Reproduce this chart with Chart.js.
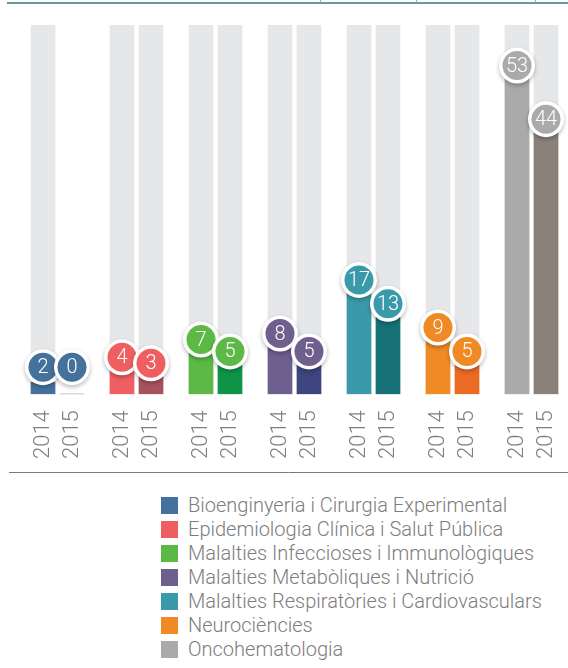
<!DOCTYPE html>
<html>
<head>
<meta charset="utf-8">
<script src="https://cdn.jsdelivr.net/npm/chart.js@4"></script>
<style>
  html, body { margin: 0; padding: 0; background: #fff; }
  #wrap { position: relative; width: 568px; height: 668px; }
  #chart { position: absolute; left: 0; top: 0; }
  #legend { position: absolute; left: 161px; top: 493px; font-family: Roboto, "Open Sans", sans-serif; font-weight: 300; font-size: 20px; color: #7d7d7d; }
  .row { display: flex; align-items: center; height: 24px; white-space: nowrap; }
  .box { width: 17px; height: 17px; margin-right: 10px; }
</style>
</head>
<body>
<div id="wrap">
  <canvas id="chart" width="568" height="480"></canvas>
  <div id="legend"></div>
</div>
<script>
  // Categories (legend) and values per year
  const categories = [
    'Bioenginyeria i Cirurgia Experimental',
    'Epidemiologia Clínica i Salut Pública',
    'Malalties Infeccioses i Immunològiques',
    'Malalties Metabòliques i Nutrició',
    'Malalties Respiratòries i Cardiovasculars',
    'Neurociències',
    'Oncohematologia'
  ];
  const yearLabels = ['2014', '2015'];
  const values2014 = [2, 4, 7, 8, 17, 9, 53];
  const values2015 = [0, 3, 5, 5, 13, 5, 44];

  // Colours
  const colors2014 = ['#44729c', '#ef5f61', '#5cb946', '#6e5f8e', '#3a9aaa', '#f08a24', '#a9aaa9'];
  const colors2015 = ['#44729c', '#a8525f', '#0f9447', '#3e4580', '#177277', '#eb6a24', '#8c807b'];
  const trackColor = '#e6e7e8';
  const axisMax = 62;

  // Layout of bar slots (pixels along the x scale)
  const firstX = 43;
  const groupStep = 79;
  const yearStep = 29;

  const x2014 = categories.map((c, i) => firstX + i * groupStep);
  const x2015 = categories.map((c, i) => firstX + i * groupStep + yearStep);
  const tickPositions = [];
  categories.forEach((c, i) => { tickPositions.push(x2014[i], x2015[i]); });

  // Grey tracks behind each bar (none behind a zero bar)
  const trackData = [];
  categories.forEach((c, i) => {
    if (values2014[i] > 0) trackData.push({ x: x2014[i], y: axisMax });
    if (values2015[i] > 0) trackData.push({ x: x2015[i], y: axisMax });
  });

  const bubblePlugin = {
    id: 'bubbles',
    afterDatasetsDraw(chart) {
      const ctx = chart.ctx;
      const base = chart.scales.y.getPixelForValue(0);
      [0, 1].forEach((di) => {
        const meta = chart.getDatasetMeta(di);
        const vals = di === 0 ? values2014 : values2015;
        meta.data.forEach((el, i) => {
          const cx = el.x;
          const cy = Math.min(el.y - 13, base - 27);
          ctx.save();
          ctx.shadowColor = 'rgba(0,0,0,0.28)';
          ctx.shadowBlur = 4;
          ctx.shadowOffsetY = 2;
          ctx.fillStyle = '#ffffff';
          ctx.beginPath();
          ctx.arc(cx, cy, 18, 0, Math.PI * 2);
          ctx.fill();
          ctx.restore();
          ctx.save();
          ctx.fillStyle = colors2014[i];
          ctx.beginPath();
          ctx.arc(cx, cy, 14.5, 0, Math.PI * 2);
          ctx.fill();
          ctx.fillStyle = '#ffffff';
          ctx.font = '300 20px Roboto, "Open Sans", sans-serif';
          ctx.textAlign = 'center';
          ctx.textBaseline = 'middle';
          ctx.fillText(String(vals[i]), cx, cy + 1);
          ctx.restore();
        });
      });
    },
    afterDraw(chart) {
      const ctx = chart.ctx;
      ctx.save();
      // top rule
      ctx.strokeStyle = '#2e7b76';
      ctx.lineWidth = 1.5;
      ctx.beginPath();
      ctx.moveTo(7, 3);
      ctx.lineTo(568, 3);
      ctx.stroke();
      // bits of cut-off text above the rule
      ctx.strokeStyle = '#aaaaaa';
      ctx.lineWidth = 1;
      [320, 416, 535].forEach((x) => {
        ctx.beginPath();
        ctx.moveTo(x + 0.5, 0);
        ctx.lineTo(x + 0.5, 2.5);
        ctx.stroke();
      });
      // separator under the axis labels
      ctx.strokeStyle = '#7a7a7a';
      ctx.lineWidth = 1;
      ctx.beginPath();
      ctx.moveTo(9, 472.5);
      ctx.lineTo(568, 472.5);
      ctx.stroke();
      ctx.restore();
    }
  };

  new Chart(document.getElementById('chart'), {
    type: 'bar',
    data: {
      datasets: [
        {
          label: '2014',
          data: categories.map((c, i) => ({ x: x2014[i], y: values2014[i] })),
          backgroundColor: colors2014,
          barThickness: 24,
          order: 1
        },
        {
          label: '2015',
          data: categories.map((c, i) => ({ x: x2015[i], y: values2015[i] })),
          backgroundColor: colors2015,
          barThickness: 24,
          order: 1
        },
        {
          label: 'track',
          data: trackData,
          backgroundColor: trackColor,
          barThickness: 24,
          order: 2
        }
      ]
    },
    options: {
      responsive: false,
      animation: false,
      grouped: false,
      layout: { padding: { top: 25, bottom: 13, left: 0, right: 0 } },
      plugins: { legend: { display: false }, tooltip: { enabled: false } },
      scales: {
        x: {
          type: 'linear',
          min: 0,
          max: 568,
          offset: false,
          grid: { display: false, offset: false },
          border: { display: false },
          afterBuildTicks: (scale) => {
            scale.ticks = tickPositions.map((v) => ({ value: v }));
          },
          afterFit: (scale) => {
            // keep the plot full width so values map 1:1 to pixels
            scale.paddingLeft = 0;
            scale.paddingRight = 0;
          },
          ticks: {
            autoSkip: false,
            minRotation: 90,
            maxRotation: 90,
            padding: 8,
            color: '#7f7f7f',
            font: { family: 'Roboto, "Open Sans", sans-serif', size: 22, weight: 300 },
            callback: (value, index) => yearLabels[index % 2]
          }
        },
        y: {
          display: false,
          min: 0,
          max: axisMax
        }
      }
    },
    plugins: [bubblePlugin]
  });

  // HTML legend
  const legend = document.getElementById('legend');
  categories.forEach((name, i) => {
    const row = document.createElement('div');
    row.className = 'row';
    const box = document.createElement('span');
    box.className = 'box';
    box.style.background = colors2014[i];
    const label = document.createElement('span');
    label.textContent = name;
    row.appendChild(box);
    row.appendChild(label);
    legend.appendChild(row);
  });
</script>
</body>
</html>
